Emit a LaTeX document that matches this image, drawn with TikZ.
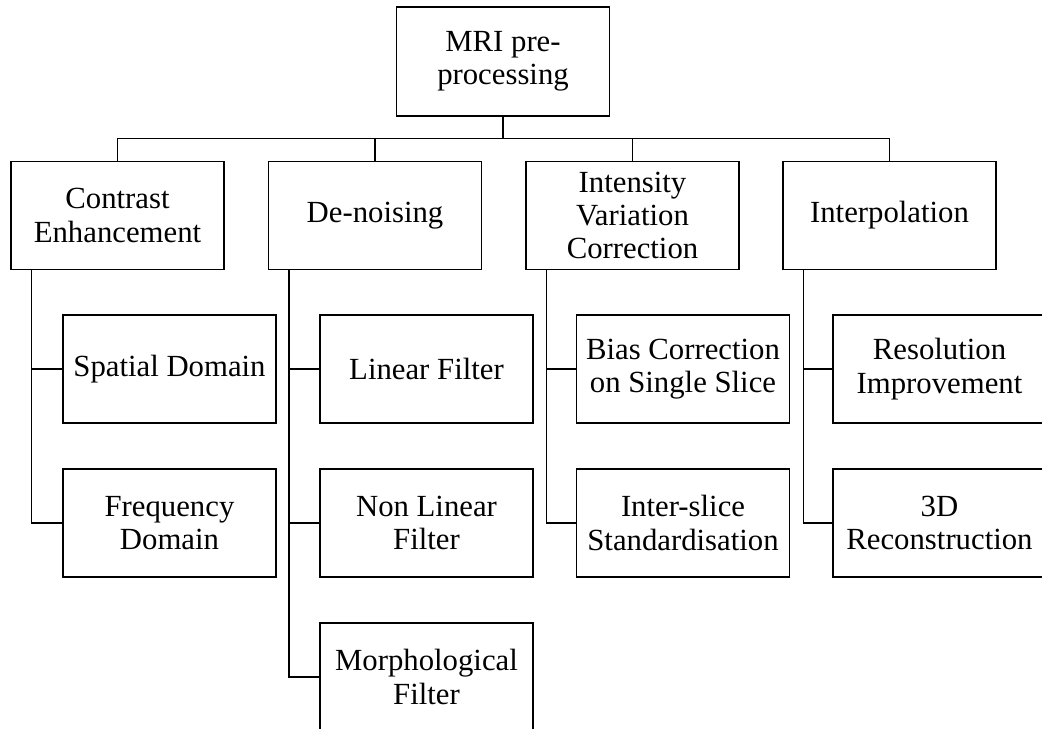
\documentclass[tikz,border=0pt]{standalone}
\usepackage{fontspec}
\setmainfont{Liberation Serif}
\usepackage{tikz}
\usetikzlibrary{arrows,shapes}
\tikzstyle{box}=[draw,line width=0.8pt,minimum width=4.26cm,minimum height=2.16cm,inner sep=0pt,align=center,font=\fontsize{17.5}{19}\selectfont]
\tikzstyle{edge} = [draw,line width=0.8pt,-]

\begin{document}
\begin{tikzpicture}[x=0.02cm,y=-0.02cm]
    \useasboundingbox (0,0) rectangle (1042,729);
    % Root of the tree
    \node[box,minimum height=2.18cm] (MRI) at (503,61.5) {MRI pre-\\processing};

    % Second level
    \foreach \pos/\name/\txt in {{(117.5,215.5)/Contrast/{Contrast\\Enhancement}}, {(375,215.5)/Denoise/{De-noising}}, {(632.5,215.5)/Intensity/{Intensity\\Variation\\Correction}}, {(889.5,215.5)/Interp/{Interpolation}}}
        \node[box] (\name) at \pos {\txt};

    % Leaves
    \foreach \pos/\name/\txt in {{(169.5,369)/Spatial/{Spatial Domain}}, {(169.5,523)/Frequency/{Frequency\\Domain}}, {(426.5,369)/Linear/{Linear Filter}}, {(426.5,523)/NonLinear/{Non Linear\\Filter}}, {(426.5,677)/Morph/{Morphological\\Filter}}, {(683,369)/Bias/{Bias Correction\\on Single Slice}}, {(683,523)/Interslice/{Inter-slice\\Standardisation}}, {(939.5,369)/Resolution/{Resolution\\Improvement}}, {(939.5,523)/Recon/{3D\\Reconstruction}}}
        \node[box] (\name) at \pos {\txt};

    % Connect root with second level
    \foreach \dest in {Contrast, Denoise, Intensity, Interp}
        \path[edge] (MRI.south) -- ++(0,22) -| (\dest.north);

    % Connect second level with leaves
    \foreach \source/\dest in {Contrast/Spatial, Contrast/Frequency, Denoise/Linear, Denoise/NonLinear, Denoise/Morph, Intensity/Bias, Intensity/Interslice, Interp/Resolution, Interp/Recon}
        \path[edge] ([xshift=0.42cm]\source.south west) |- (\dest.west);

\end{tikzpicture}
\end{document}
